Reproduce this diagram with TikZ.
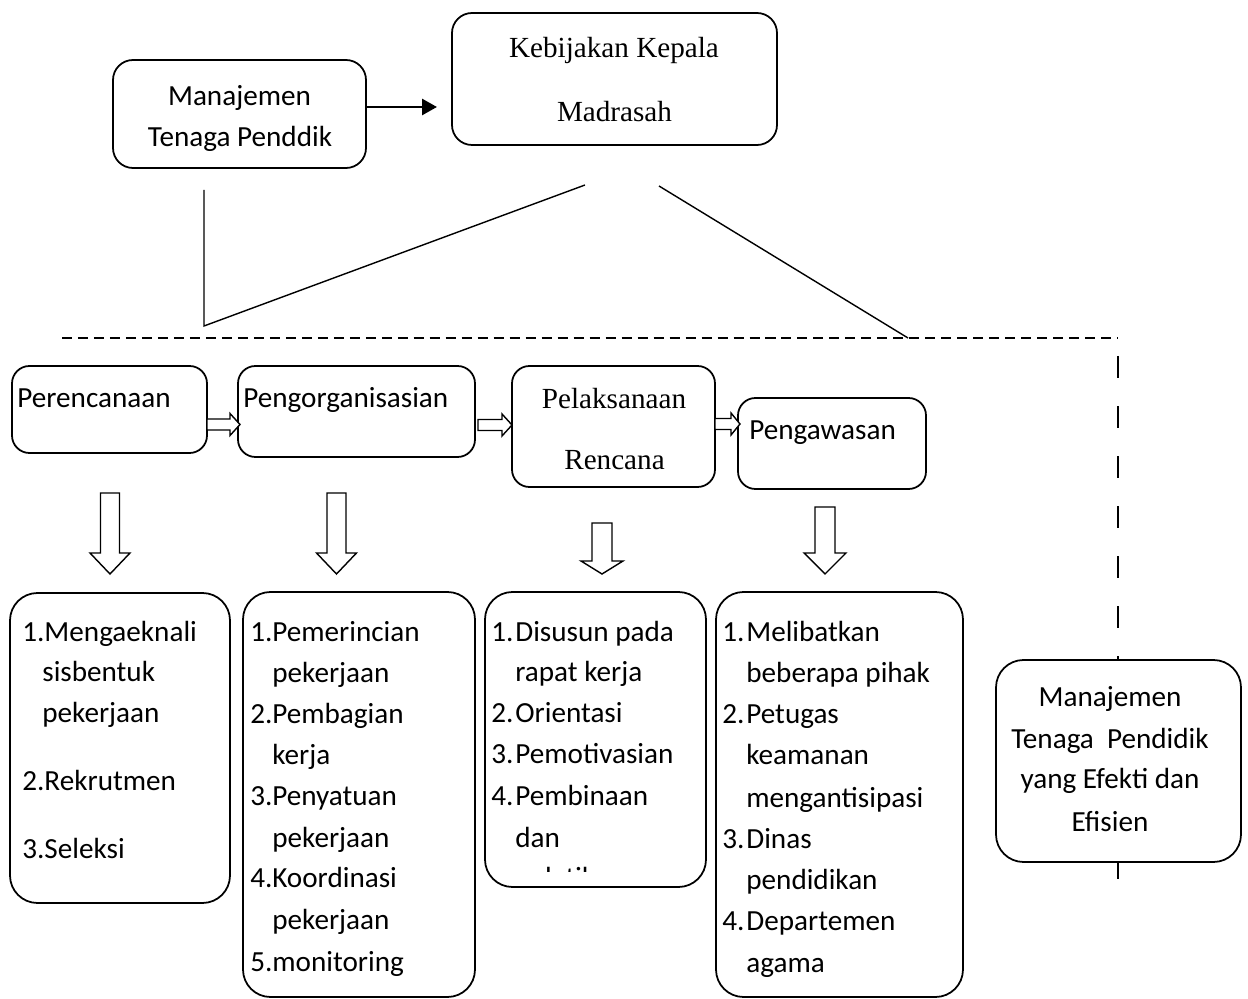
\documentclass[tikz,border=0pt]{standalone}
\usepackage{fontspec}
\setmainfont{Carlito}
\newfontfamily\tnr{Liberation Serif}
\usetikzlibrary{calc,arrows.meta}
\newcommand{\hdown}[6]{\draw[hollow] ({#1-#5},#2) -- ({#1+#5},#2) -- ({#1+#5},#3) -- ({#1+#6},#3) -- (#1,#4) -- ({#1-#6},#3) -- ({#1-#5},#3) -- cycle;}
\newcommand{\hright}[6]{\draw[hollow] (#2,{#1-#5}) -- (#3,{#1-#5}) -- (#3,{#1-#6}) -- (#4,#1) -- (#3,{#1+#6}) -- (#3,{#1+#5}) -- (#2,{#1+#5}) -- cycle;}
\begin{document}
\begin{tikzpicture}[x=0.02cm,y=-0.02cm,
 box/.style={draw, line width=1pt, fill=white, inner sep=0pt},
 sz/.style 2 args={minimum width=#1*0.02cm, minimum height=#2*0.02cm},
 txt/.style={anchor=base west, inner sep=0pt, font=\fontsize{16.6}{20}\selectfont},
 ctxt/.style={anchor=base, inner sep=0pt, font=\fontsize{16.6}{20}\selectfont},
 ln/.style={line width=0.8pt},
 hollow/.style={line width=0.8pt, fill=white, line join=miter}]
\useasboundingbox (0,0) rectangle (1248,999);

% top boxes
\node[box, rounded corners=0.4cm, sz={253}{108}] (A) at (239.5,114) {};
\node[ctxt] (Aa) at (239.5,106) {Manajemen};
\node[ctxt] (Ab) at (240,147) {Tenaga Penddik};
\node[box, rounded corners=0.4cm, sz={325}{132}] (B) at (614.5,79) {};
\node[ctxt, font=\tnr\fontsize{16.6}{20}\selectfont] (Ba) at (614,58) {Kebijakan Kepala};
\node[ctxt, font=\tnr\fontsize{16.6}{20}\selectfont] (Bb) at (614.5,122) {Madrasah};
\coordinate (Ae) at ($(A.east)+(0,-7)$);
\coordinate (Bw) at (437,107);
\draw[line width=1.6pt, -{Triangle[length=0.3cm,width=0.32cm]}] (Ae) -- (Bw);

% connector lines
\coordinate (c1) at (204,190);
\coordinate (c2) at (204,326);
\coordinate (c3) at (585,185);
\coordinate (c4) at (659,186);
\coordinate (c5) at (908,338);
\draw[ln] (c1) -- (c2) -- (c3);
\draw[ln] (c4) -- (c5);
\coordinate (d1) at (62,338);
\coordinate (d2) at (1118,338);
\draw[ln, dash pattern=on 5.7pt off 3.4pt] (d1) -- (d2);
\coordinate (v1) at (1118,356);
\coordinate (v2) at (1118,880);
\draw[ln, dash pattern=on 12.5pt off 16pt] (v1) -- (v2);

% process boxes
\node[box, rounded corners=0.35cm, sz={195}{87}] (P1) at (109.5,409.5) {};
\node[txt] (P1t) at (17,408) {Perencanaan};
\node[box, rounded corners=0.35cm, sz={237}{91}] (P2) at (356.5,411.5) {};
\node[txt] (P2t) at (243,408) {Pengorganisasian};
\node[box, rounded corners=0.35cm, sz={203}{121}] (P3) at (613.5,426.5) {};
\node[ctxt, font=\tnr\fontsize{16.6}{20}\selectfont] (P3a) at (614,409) {Pelaksanaan};
\node[ctxt, font=\tnr\fontsize{16.6}{20}\selectfont] (P3b) at (614.5,470) {Rencana};
\node[box, rounded corners=0.35cm, sz={188}{91}] (P4) at (832,443.5) {};
\node[txt] (P4t) at (749,440) {Pengawasan};

% small hollow arrows
\hright{424.5}{207}{230}{240}{5.5}{11}
\hright{425}{478}{502}{512}{5.5}{11}
\hright{424}{715}{731}{740}{5.5}{11}

% down hollow arrows
\hdown{110}{493}{553}{574}{9.5}{20}
\hdown{336.5}{493}{553}{574}{9.5}{20}
\hdown{602}{523}{561}{574}{10}{21}
\hdown{825}{507}{553}{574}{10}{21}

% list boxes
\node[box, rounded corners=0.55cm, sz={220}{310}] (L1) at (120,748) {};
\node[txt] (l1a) at (22,642) {1.Mengaeknali};
\node[txt] (l1b) at (42,682) {sisbentuk};
\node[txt] (l1c) at (42,723) {pekerjaan};
\node[txt] (l1d) at (22,791) {2.Rekrutmen};
\node[txt] (l1e) at (22,859) {3.Seleksi};

\node[box, rounded corners=0.55cm, sz={232}{405}] (L2) at (359,794.5) {};
\node[txt] (n2a) at (250,642) {1.};
\node[txt] (t2a) at (272,642) {Pemerincian};
\node[txt] (t2b) at (272,683) {pekerjaan};
\node[txt] (n2c) at (250,724) {2.};
\node[txt] (t2c) at (272,724) {Pembagian};
\node[txt] (t2d) at (272,765) {kerja};
\node[txt] (n2e) at (250,806) {3.};
\node[txt] (t2e) at (272,806) {Penyatuan};
\node[txt] (t2f) at (272,847) {pekerjaan};
\node[txt] (n2g) at (250,888) {4.};
\node[txt] (t2g) at (272,888) {Koordinasi};
\node[txt] (t2h) at (272,929) {pekerjaan};
\node[txt] (n2i) at (250,971) {5.};
\node[txt] (t2i) at (272,971) {monitoring};

\node[box, rounded corners=0.55cm, sz={221}{295}] (L3) at (595.5,739.5) {};
\node[txt] (n3a) at (491,642) {1.};
\node[txt] (t3a) at (515,642) {Disusun pada};
\node[txt] (t3b) at (515,682) {rapat kerja};
\node[txt] (n3c) at (491,723) {2.};
\node[txt] (t3c) at (515,723) {Orientasi};
\node[txt] (n3d) at (491,764) {3.};
\node[txt] (t3d) at (515,764) {Pemotivasian};
\node[txt] (n3e) at (491,806) {4.};
\node[txt] (t3e) at (515,806) {Pembinaan};
\node[txt] (t3f) at (515,847) {dan};
\begin{scope}
\clip (486,850) rectangle (705,872);
\node[txt] (t3g) at (515,888) {pelatihan};
\end{scope}

\node[box, rounded corners=0.55cm, sz={247}{405}] (L4) at (839.5,794.5) {};
\node[txt] (n4a) at (722,642) {1.};
\node[txt] (t4a) at (746,642) {Melibatkan};
\node[txt] (t4b) at (746,683) {beberapa pihak};
\node[txt] (n4c) at (722,724) {2.};
\node[txt] (t4c) at (746,724) {Petugas};
\node[txt] (t4d) at (746,765) {keamanan};
\node[txt] (t4e) at (746,807) {mengantisipasi};
\node[txt] (n4f) at (722,848) {3.};
\node[txt] (t4f) at (746,848) {Dinas};
\node[txt] (t4g) at (746,889) {pendidikan};
\node[txt] (n4h) at (722,930) {4.};
\node[txt] (t4h) at (746,930) {Departemen};
\node[txt] (t4i) at (746,972) {agama};

% result box
\node[box, rounded corners=0.55cm, sz={245}{202}] (R) at (1118.5,761) {};
\node[ctxt] (Ra) at (1110,707) {Manajemen};
\node[ctxt] (Rb) at (1110,749) {Tenaga\ \ Pendidik};
\node[ctxt] (Rc) at (1110,789) {yang Efekti dan};
\node[ctxt] (Rd) at (1110,831) {Efisien};
\end{tikzpicture}
\end{document}
